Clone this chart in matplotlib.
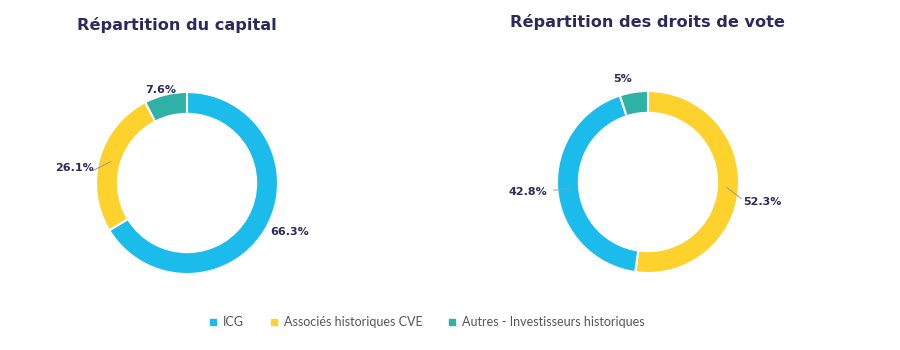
import numpy as np
import matplotlib
matplotlib.use("Agg")
import matplotlib.pyplot as plt
from matplotlib.lines import Line2D

# donnees
categories = ["ICG", "Associés historiques CVE", "Autres - Investisseurs historiques"]
capital_labels = ["ICG", "Associés historiques CVE", "Autres - Investisseurs historiques"]
capital_values = [66.3, 26.1, 7.6]
capital_texts = ["66.3%", "26.1%", "7.6%"]
vote_labels = ["Associés historiques CVE", "ICG", "Autres - Investisseurs historiques"]
vote_values = [52.3, 42.8, 5.0]
vote_texts = ["52.3%", "42.8%", "5%"]

colors = {
    "ICG": "#1bbceb",
    "Associés historiques CVE": "#fdd22c",
    "Autres - Investisseurs historiques": "#2fb1a6",
}
navy = "#2b2a5c"

W, H = 900, 350
fig = plt.figure(figsize=(9, 3.5), dpi=100)
fig.patch.set_facecolor("white")

R = 91  # rayon en pixels
LIM = 1.7


def donut(cx, cy, values, labels, texts, shifts, radii, connect):
    size = 2 * LIM * R
    ax = fig.add_axes([(cx - size / 2) / W, (H - cy - size / 2) / H, size / W, size / H])
    wedges, _ = ax.pie(values, colors=[colors[l] for l in labels], startangle=90,
                       counterclock=False, radius=1,
                       wedgeprops=dict(width=0.24, edgecolor="white", linewidth=1.5))
    ax.set_xlim(-LIM, LIM)
    ax.set_ylim(-LIM, LIM)
    ax.set_aspect("equal")
    ax.axis("off")
    for w, t, s, r, c in zip(wedges, texts, shifts, radii, connect):
        mid = (w.theta1 + w.theta2) / 2
        a = np.deg2rad(mid + s)
        ax.text(r * np.cos(a), r * np.sin(a), t, ha="center", va="center",
                fontsize=8, fontweight="bold", color=navy)
        if c:
            m = np.deg2rad(mid)
            ax.plot([0.87 * np.cos(m), 1.04 * np.cos(a)],
                    [0.87 * np.sin(m), 1.04 * np.sin(a)], color="#9a9a9a", lw=0.7)
    return ax


donut(187, 183, capital_values, capital_labels, capital_texts,
      [4, 8, 2], [1.25, 1.25, 1.06], [False, True, False])
donut(648, 182, vote_values, vote_labels, vote_texts,
      [-6, 0, 5], [1.28, 1.32, 1.17], [True, True, False])

fig.text(177 / W, 1 - 25 / H, "Répartition du capital", ha="center", va="center",
         fontsize=11.6, fontweight="bold", color=navy)
fig.text(647 / W, 1 - 22 / H, "Répartition des droits de vote", ha="center", va="center",
         fontsize=11.6, fontweight="bold", color=navy)

handles = [Line2D([], [], marker="s", ls="", markersize=4.5, color=colors[c]) for c in categories]
leg = fig.legend(handles, categories, loc="center", bbox_to_anchor=(427 / W, 1 - 322 / H),
                 ncol=3, frameon=False, handlelength=0.6, handletextpad=0.5,
                 columnspacing=2.1, prop={"family": "Lato", "size": 9})
for t in leg.get_texts():
    t.set_color("#555555")

fig.savefig("out.png", dpi=100, facecolor="white")
